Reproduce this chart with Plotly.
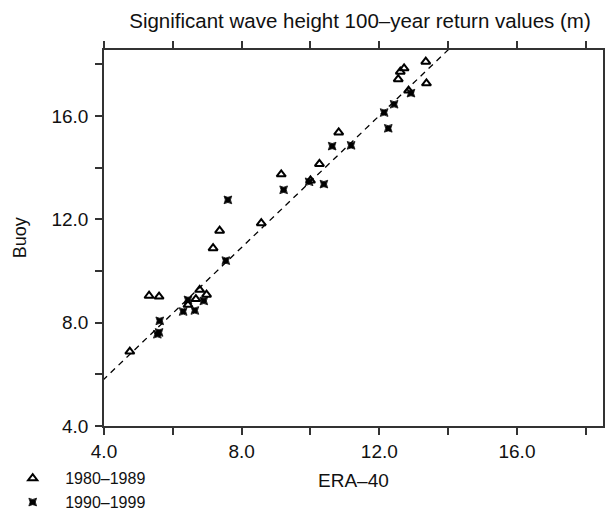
import plotly.graph_objects as go

# 1980-1989 (triangles)
era80_x = [4.75, 5.31, 5.60, 6.44, 6.67, 6.78, 6.98, 7.17, 7.36, 8.57,
           9.15, 10.0, 10.26, 10.82, 12.55, 12.61, 12.72, 12.85, 13.35, 13.37]
buoy80_y = [6.88, 9.04, 9.01, 8.69, 8.91, 9.27, 9.08, 10.88, 11.56, 11.85,
            13.74, 13.5, 14.14, 15.36, 17.42, 17.71, 17.84, 16.98, 18.10, 17.26]

# 1990-1999 (stars)
era90_x = [5.55, 5.60, 5.62, 6.30, 6.44, 6.64, 6.90, 7.54, 7.60, 9.22,
           9.96, 10.39, 10.63, 11.18, 12.14, 12.26, 12.43, 12.92]
buoy90_y = [7.55, 7.62, 8.07, 8.43, 8.88, 8.47, 8.84, 10.40, 12.75, 13.14,
            13.45, 13.36, 14.83, 14.86, 16.13, 15.52, 16.45, 16.88]

# fitted line
fit_intercept = 0.72
fit_slope = 1.274
fit_x = [3.5, 15.0]
fit_y = [fit_intercept + fit_slope * v for v in fit_x]

x_range = [4.0, 18.5]
y_range = [4.0, 18.55]

FONT = "Liberation Sans, Arial, Helvetica, sans-serif"
AX = "#333333"

fig = go.Figure()
fig.add_trace(go.Scatter(x=fit_x, y=fit_y, mode="lines",
                         line=dict(color="black", width=1.3, dash="6px,5px"),
                         showlegend=False, hoverinfo="skip"))
fig.add_trace(go.Scatter(x=era80_x, y=buoy80_y, mode="markers", name="1980–1989",
                         marker=dict(symbol="triangle-up-open", size=8, color="black",
                                     line=dict(width=2, color="black"))))
fig.add_trace(go.Scatter(x=era90_x, y=buoy90_y, mode="markers", name="1990–1999",
                         marker=dict(symbol="star-square", size=7, color="black",
                                     line=dict(width=0.8, color="black"))))

axis_common = dict(
    showgrid=False, zeroline=False, showline=True, linecolor=AX, linewidth=1.5,
    ticks="outside", ticklen=7, tickwidth=1.5, tickcolor=AX,
    tickformat=".1f", dtick=4, tick0=4, automargin=False,
    minor=dict(dtick=2, tick0=4, ticks="outside", ticklen=7, tickwidth=1.5, tickcolor=AX, showgrid=False),
    tickfont=dict(family=FONT, size=19, color="#111"),
)

fig.update_xaxes(range=x_range, mirror="ticks", **axis_common)
fig.update_yaxes(range=y_range, mirror=True, ticklabelstandoff=3, **axis_common)

fig.add_annotation(text="ERA–40", xref="paper", yref="paper", x=0.5, y=-0.146,
                   xanchor="center", yanchor="middle", showarrow=False,
                   font=dict(family=FONT, size=19, color="#111"))
fig.add_annotation(text="Buoy", xref="paper", yref="paper", x=-0.168, y=0.5,
                   xanchor="center", yanchor="middle", showarrow=False, textangle=-90,
                   font=dict(family=FONT, size=18, color="#111"))

fig.update_layout(
    width=605, height=512,
    margin=dict(l=104, r=2, t=50, b=86, autoexpand=False),
    plot_bgcolor="white", paper_bgcolor="white",
    title=dict(text="Significant wave height 100–year return values (m)",
               x=0.595, xanchor="center", y=0.96, yanchor="middle",
               font=dict(family=FONT, size=20.5, color="#111")),
    legend=dict(x=-0.208, xanchor="left", y=-0.094, yanchor="top",
                font=dict(family=FONT, size=16, color="#111"),
                bgcolor="rgba(0,0,0,0)", tracegroupgap=0, itemwidth=55),
    font=dict(family=FONT),
)

fig.write_html("out.html", config={"displayModeBar": False},
               post_script="document.body.style.margin='0';document.body.style.padding='0';")
